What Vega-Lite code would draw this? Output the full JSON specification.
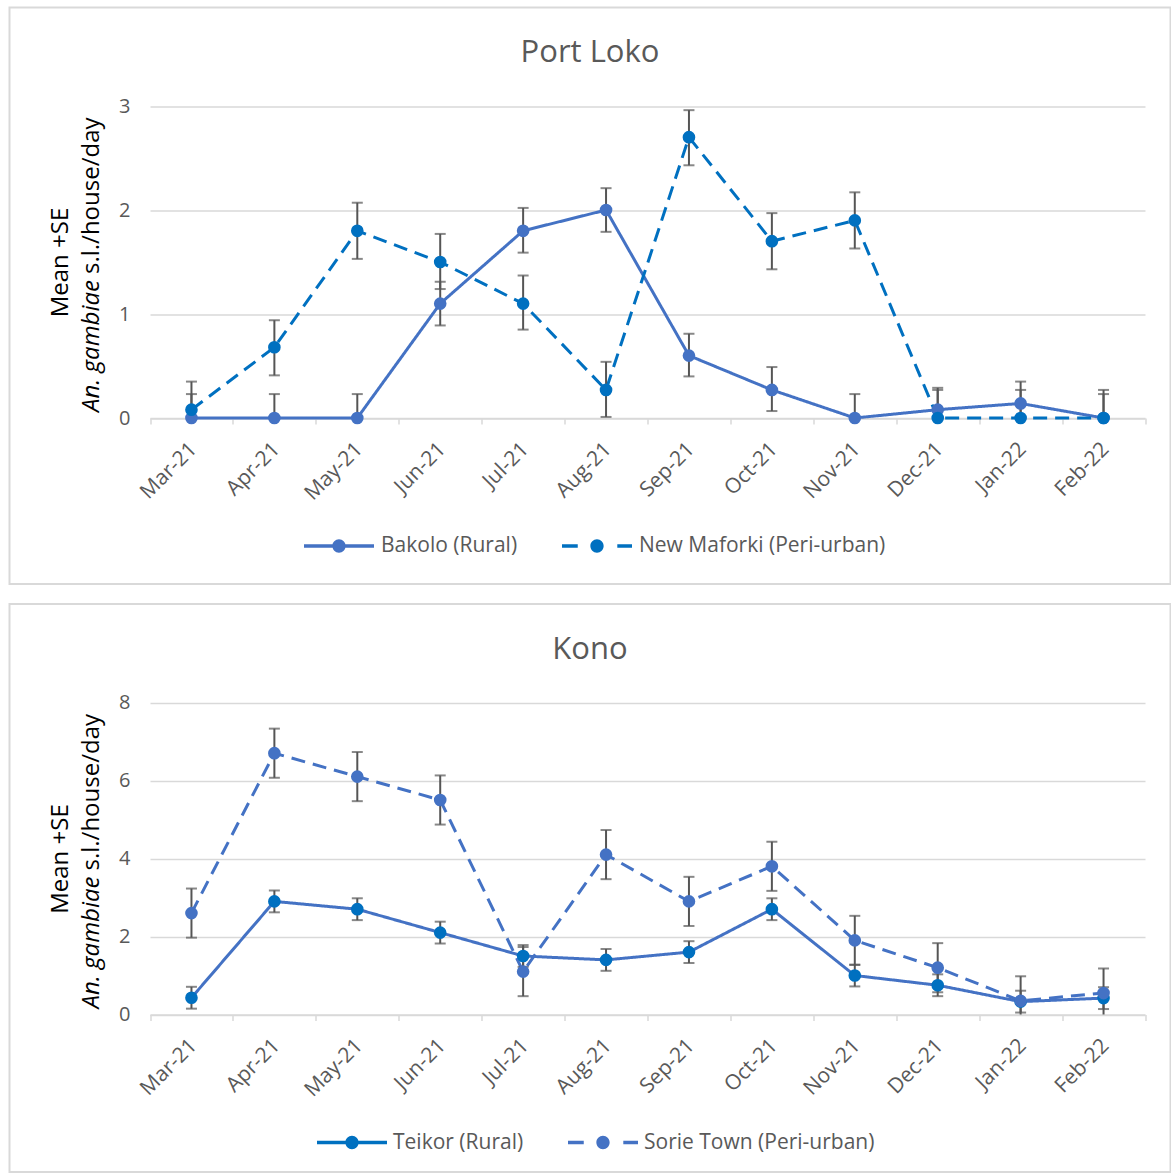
{
  "$schema": "https://vega.github.io/schema/vega-lite/v6.json",
  "background": "white",
  "padding": {"left": 8.5, "top": 6.5, "right": 0, "bottom": 0},
  "autosize": {"type": "pad"},
  "spacing": 17.5,
  "config": {
    "font": "Open Sans",
    "view": {"stroke": "#D9D9D9", "strokeWidth": 2},
    "axis": {"labelFont": "Open Sans", "titleFont": "Open Sans"},
    "legend": {"labelFont": "Open Sans"}
  },
  "datasets": {
    "portloko": [
      {"month": "Mar-21", "site": "Bakolo (Rural)", "mean": 0, "lo": 0, "hi": 0.23},
      {"month": "Apr-21", "site": "Bakolo (Rural)", "mean": 0, "lo": 0, "hi": 0.23},
      {"month": "May-21", "site": "Bakolo (Rural)", "mean": 0, "lo": 0, "hi": 0.23},
      {"month": "Jun-21", "site": "Bakolo (Rural)", "mean": 1.1, "lo": 0.89, "hi": 1.31},
      {"month": "Jul-21", "site": "Bakolo (Rural)", "mean": 1.8, "lo": 1.59, "hi": 2.02},
      {"month": "Aug-21", "site": "Bakolo (Rural)", "mean": 2.0, "lo": 1.79, "hi": 2.21},
      {"month": "Sep-21", "site": "Bakolo (Rural)", "mean": 0.6, "lo": 0.4, "hi": 0.81},
      {"month": "Oct-21", "site": "Bakolo (Rural)", "mean": 0.27, "lo": 0.067, "hi": 0.49},
      {"month": "Nov-21", "site": "Bakolo (Rural)", "mean": 0, "lo": 0, "hi": 0.23},
      {"month": "Dec-21", "site": "Bakolo (Rural)", "mean": 0.08, "lo": 0, "hi": 0.29},
      {"month": "Jan-22", "site": "Bakolo (Rural)", "mean": 0.14, "lo": 0, "hi": 0.35},
      {"month": "Feb-22", "site": "Bakolo (Rural)", "mean": 0, "lo": 0, "hi": 0.23},
      {"month": "Mar-21", "site": "New Maforki (Peri-urban)", "mean": 0.08, "lo": 0, "hi": 0.35},
      {"month": "Apr-21", "site": "New Maforki (Peri-urban)", "mean": 0.68, "lo": 0.41, "hi": 0.94},
      {"month": "May-21", "site": "New Maforki (Peri-urban)", "mean": 1.8, "lo": 1.53, "hi": 2.07},
      {"month": "Jun-21", "site": "New Maforki (Peri-urban)", "mean": 1.5, "lo": 1.24, "hi": 1.77},
      {"month": "Jul-21", "site": "New Maforki (Peri-urban)", "mean": 1.1, "lo": 0.85, "hi": 1.37},
      {"month": "Aug-21", "site": "New Maforki (Peri-urban)", "mean": 0.27, "lo": 0.01, "hi": 0.54},
      {"month": "Sep-21", "site": "New Maforki (Peri-urban)", "mean": 2.7, "lo": 2.43, "hi": 2.96},
      {"month": "Oct-21", "site": "New Maforki (Peri-urban)", "mean": 1.7, "lo": 1.43, "hi": 1.97},
      {"month": "Nov-21", "site": "New Maforki (Peri-urban)", "mean": 1.9, "lo": 1.63, "hi": 2.17},
      {"month": "Dec-21", "site": "New Maforki (Peri-urban)", "mean": 0, "lo": 0, "hi": 0.27},
      {"month": "Jan-22", "site": "New Maforki (Peri-urban)", "mean": 0, "lo": 0, "hi": 0.27},
      {"month": "Feb-22", "site": "New Maforki (Peri-urban)", "mean": 0, "lo": 0, "hi": 0.27}
    ],
    "kono": [
      {"month": "Mar-21", "site": "Teikor (Rural)", "mean": 0.43, "lo": 0.15, "hi": 0.71},
      {"month": "Apr-21", "site": "Teikor (Rural)", "mean": 2.9, "lo": 2.62, "hi": 3.18},
      {"month": "May-21", "site": "Teikor (Rural)", "mean": 2.7, "lo": 2.42, "hi": 2.98},
      {"month": "Jun-21", "site": "Teikor (Rural)", "mean": 2.1, "lo": 1.82, "hi": 2.38},
      {"month": "Jul-21", "site": "Teikor (Rural)", "mean": 1.5, "lo": 1.22, "hi": 1.78},
      {"month": "Aug-21", "site": "Teikor (Rural)", "mean": 1.4, "lo": 1.12, "hi": 1.68},
      {"month": "Sep-21", "site": "Teikor (Rural)", "mean": 1.6, "lo": 1.32, "hi": 1.88},
      {"month": "Oct-21", "site": "Teikor (Rural)", "mean": 2.7, "lo": 2.42, "hi": 2.98},
      {"month": "Nov-21", "site": "Teikor (Rural)", "mean": 1.0, "lo": 0.72, "hi": 1.28},
      {"month": "Dec-21", "site": "Teikor (Rural)", "mean": 0.75, "lo": 0.47, "hi": 1.03},
      {"month": "Jan-22", "site": "Teikor (Rural)", "mean": 0.33, "lo": 0.05, "hi": 0.61},
      {"month": "Feb-22", "site": "Teikor (Rural)", "mean": 0.42, "lo": 0.14, "hi": 0.7},
      {"month": "Mar-21", "site": "Sorie Town (Peri-urban)", "mean": 2.6, "lo": 1.97, "hi": 3.23},
      {"month": "Apr-21", "site": "Sorie Town (Peri-urban)", "mean": 6.7, "lo": 6.07, "hi": 7.33},
      {"month": "May-21", "site": "Sorie Town (Peri-urban)", "mean": 6.1, "lo": 5.47, "hi": 6.73},
      {"month": "Jun-21", "site": "Sorie Town (Peri-urban)", "mean": 5.5, "lo": 4.87, "hi": 6.13},
      {"month": "Jul-21", "site": "Sorie Town (Peri-urban)", "mean": 1.1, "lo": 0.47, "hi": 1.73},
      {"month": "Aug-21", "site": "Sorie Town (Peri-urban)", "mean": 4.1, "lo": 3.47, "hi": 4.73},
      {"month": "Sep-21", "site": "Sorie Town (Peri-urban)", "mean": 2.9, "lo": 2.27, "hi": 3.53},
      {"month": "Oct-21", "site": "Sorie Town (Peri-urban)", "mean": 3.8, "lo": 3.17, "hi": 4.43},
      {"month": "Nov-21", "site": "Sorie Town (Peri-urban)", "mean": 1.9, "lo": 1.27, "hi": 2.53},
      {"month": "Dec-21", "site": "Sorie Town (Peri-urban)", "mean": 1.2, "lo": 0.57, "hi": 1.83},
      {"month": "Jan-22", "site": "Sorie Town (Peri-urban)", "mean": 0.35, "lo": 0, "hi": 0.98},
      {"month": "Feb-22", "site": "Sorie Town (Peri-urban)", "mean": 0.55, "lo": 0, "hi": 1.18}
    ]
  },
  "vconcat": [
    {
      "width": 1161,
      "height": 576.5,
      "data": {"name": "portloko"},
      "title": {"text": "Port Loko", "fontSize": 31, "fontWeight": "normal", "color": "#595959", "anchor": "middle", "frame": "group", "baseline": "alphabetic", "offset": -85.5},
      "encoding": {
        "x": {
          "field": "month", "type": "ordinal",
          "scale": {"type": "band", "paddingInner": 0, "paddingOuter": 0, "range": [140.5, 1135.5],
                    "domain": ["Mar-21","Apr-21","May-21","Jun-21","Jul-21","Aug-21","Sep-21","Oct-21","Nov-21","Dec-21","Jan-22","Feb-22"]},
          "axis": {"title": null, "offset": -166, "tickBand": "extent", "tickSize": 6, "tickColor": "#D9D9D9", "tickWidth": 1.5,
                   "domainColor": "#D9D9D9", "domainWidth": 1.5, "labelAngle": -45, "labelAlign": "right", "labelBaseline": "top",
                   "labelPadding": 14, "labelOffset": -6, "labelFontSize": 21, "labelColor": "#595959", "labelOverlap": false, "grid": false}
        }
      },
      "layer": [
        {
          "mark": {"type": "line", "strokeWidth": 3},
          "encoding": {
            "y": {"field": "mean", "type": "quantitative",
                  "scale": {"domain": [0, 3], "range": [410.5, 98.5], "nice": false, "zero": false},
                  "axis": {"orient": "left", "offset": -140.5, "values": [0, 1, 2, 3], "domain": false, "ticks": false,
                           "labelPadding": 20, "labelFontSize": 20, "labelColor": "#595959",
                           "grid": true, "gridColor": "#D9D9D9", "gridWidth": 1.5,
                           "title": "Mean +SE", "titleFontSize": 24, "titleFontWeight": "normal", "titleColor": "#000000",
                           "titleX": -90, "titleBaseline": "middle"}},
            "color": {"field": "site", "type": "nominal",
                      "scale": {"domain": ["Bakolo (Rural)", "New Maforki (Peri-urban)"], "range": ["#4472C4", "#0070C0"]},
                      "legend": {"orient": "none", "legendX": 294.5, "legendY": 503.5, "direction": "horizontal", "title": null,
                                 "labelFontSize": 21, "labelColor": "#595959", "labelOffset": 7, "labelLimit": 500, "columnPadding": 44, "padding": 0,
                                 "symbolSize": 4900, "symbolStrokeWidth": 0,
                                 "encode": {"symbols": {"update": {
                                   "size": {"value": 4900},
                                   "strokeWidth": {"value": 0},
                                   "stroke": {"value": "transparent"},
                                   "opacity": {"value": 1},
                                   "fillOpacity": {"value": 1},
                                   "fill": {"signal": "datum.value === 'Bakolo (Rural)' ? '#4472C4' : '#0070C0'"},
                                   "shape": {"signal": "datum.value === 'Bakolo (Rural)' ? 'M-1,-0.05H1V0.05H-1Z M0.19,0A0.19,0.19 0 1,1 -0.19,0A0.19,0.19 0 1,1 0.19,0Z' : 'M-1,-0.05H-0.55V0.05H-1Z M0.58,-0.05H1V0.05H0.58Z M0.19,0A0.19,0.19 0 1,1 -0.19,0A0.19,0.19 0 1,1 0.19,0Z'"}
                                 }}}}},
            "strokeDash": {"field": "site", "type": "nominal",
                           "scale": {"domain": ["Bakolo (Rural)", "New Maforki (Peri-urban)"], "range": [[1, 0], [14, 8]]},
                           "legend": null}
          }
        },
        {
          "mark": {"type": "rule", "color": "#555555", "strokeWidth": 2},
          "encoding": {
            "y": {"field": "lo", "type": "quantitative",
                  "axis": {"orient": "left", "offset": -140.5, "labels": false, "ticks": false, "domain": false, "grid": false,
                           "title": "An. gambiae", "titleFontSize": 24, "titleFontWeight": "normal", "titleFontStyle": "italic",
                           "titleColor": "#000000", "titleX": -59, "titleY": 272, "titleAlign": "right", "titleBaseline": "middle"}},
            "y2": {"field": "hi"}
          }
        },
        {
          "mark": {"type": "tick", "color": "#555555", "size": 11, "thickness": 2},
          "encoding": {
            "y": {"field": "hi", "type": "quantitative",
                  "axis": {"orient": "left", "offset": -140.5, "labels": false, "ticks": false, "domain": false, "grid": false,
                           "title": "s.l./house/day", "titleFontSize": 24, "titleFontWeight": "normal",
                           "titleColor": "#000000", "titleX": -59, "titleY": 266, "titleAlign": "left", "titleBaseline": "middle"}}
          }
        },
        {
          "transform": [{"filter": "datum.lo > 0"}],
          "mark": {"type": "tick", "color": "#555555", "size": 11, "thickness": 2},
          "encoding": {"y": {"field": "lo", "type": "quantitative", "axis": null}}
        },
        {
          "mark": {"type": "circle", "size": 160, "opacity": 1},
          "encoding": {
            "y": {"field": "mean", "type": "quantitative", "axis": null},
            "fill": {"field": "site", "type": "nominal",
                     "scale": {"domain": ["Bakolo (Rural)", "New Maforki (Peri-urban)"], "range": ["#4472C4", "#0070C0"]},
                     "legend": null}
          }
        }
      ],
      "resolve": {"axis": {"y": "independent"}}
    },
    {
      "width": 1161,
      "height": 568,
      "data": {"name": "kono"},
      "title": {"text": "Kono", "fontSize": 31, "fontWeight": "normal", "color": "#595959", "anchor": "middle", "frame": "group", "baseline": "alphabetic", "offset": -86},
      "encoding": {
        "x": {
          "field": "month", "type": "ordinal",
          "scale": {"type": "band", "paddingInner": 0, "paddingOuter": 0, "range": [140.5, 1135.5],
                    "domain": ["Mar-21","Apr-21","May-21","Jun-21","Jul-21","Aug-21","Sep-21","Oct-21","Nov-21","Dec-21","Jan-22","Feb-22"]},
          "axis": {"title": null, "offset": -157.5, "tickBand": "extent", "tickSize": 6, "tickColor": "#D9D9D9", "tickWidth": 1.5,
                   "domainColor": "#D9D9D9", "domainWidth": 1.5, "labelAngle": -45, "labelAlign": "right", "labelBaseline": "top",
                   "labelPadding": 14, "labelOffset": -6, "labelFontSize": 21, "labelColor": "#595959", "labelOverlap": false, "grid": false}
        }
      },
      "layer": [
        {
          "mark": {"type": "line", "strokeWidth": 3},
          "encoding": {
            "y": {"field": "mean", "type": "quantitative",
                  "scale": {"domain": [0, 8], "range": [410.5, 98.5], "nice": false, "zero": false},
                  "axis": {"orient": "left", "offset": -140.5, "values": [0, 2, 4, 6, 8], "domain": false, "ticks": false,
                           "labelPadding": 20, "labelFontSize": 20, "labelColor": "#595959",
                           "grid": true, "gridColor": "#D9D9D9", "gridWidth": 1.5,
                           "title": "Mean +SE", "titleFontSize": 24, "titleFontWeight": "normal", "titleColor": "#000000",
                           "titleX": -90, "titleBaseline": "middle"}},
            "color": {"field": "site", "type": "nominal",
                      "scale": {"domain": ["Teikor (Rural)", "Sorie Town (Peri-urban)"], "range": ["#4472C4", "#4472C4"]},
                      "legend": {"orient": "none", "legendX": 307.5, "legendY": 503.5, "direction": "horizontal", "title": null,
                                 "labelFontSize": 21, "labelColor": "#595959", "labelOffset": 6, "labelLimit": 500, "columnPadding": 44, "padding": 0,
                                 "symbolSize": 4900, "symbolStrokeWidth": 0,
                                 "encode": {"symbols": {"update": {
                                   "size": {"value": 4900},
                                   "strokeWidth": {"value": 0},
                                   "stroke": {"value": "transparent"},
                                   "opacity": {"value": 1},
                                   "fillOpacity": {"value": 1},
                                   "fill": {"value": "#4472C4"},
                                   "shape": {"signal": "datum.value === 'Teikor (Rural)' ? 'M-1,-0.05H1V0.05H-1Z M0.19,0A0.19,0.19 0 1,1 -0.19,0A0.19,0.19 0 1,1 0.19,0Z' : 'M-1,-0.05H-0.55V0.05H-1Z M0.58,-0.05H1V0.05H0.58Z M0.19,0A0.19,0.19 0 1,1 -0.19,0A0.19,0.19 0 1,1 0.19,0Z'"}
                                 }}}}},
            "strokeDash": {"field": "site", "type": "nominal",
                           "scale": {"domain": ["Teikor (Rural)", "Sorie Town (Peri-urban)"], "range": [[1, 0], [14, 8]]},
                           "legend": null}
          }
        },
        {
          "mark": {"type": "rule", "color": "#555555", "strokeWidth": 2},
          "encoding": {
            "y": {"field": "lo", "type": "quantitative",
                  "axis": {"orient": "left", "offset": -140.5, "labels": false, "ticks": false, "domain": false, "grid": false,
                           "title": "An. gambiae", "titleFontSize": 24, "titleFontWeight": "normal", "titleFontStyle": "italic",
                           "titleColor": "#000000", "titleX": -59, "titleY": 272, "titleAlign": "right", "titleBaseline": "middle"}},
            "y2": {"field": "hi"}
          }
        },
        {
          "mark": {"type": "tick", "color": "#555555", "size": 11, "thickness": 2},
          "encoding": {
            "y": {"field": "hi", "type": "quantitative",
                  "axis": {"orient": "left", "offset": -140.5, "labels": false, "ticks": false, "domain": false, "grid": false,
                           "title": "s.l./house/day", "titleFontSize": 24, "titleFontWeight": "normal",
                           "titleColor": "#000000", "titleX": -59, "titleY": 266, "titleAlign": "left", "titleBaseline": "middle"}}
          }
        },
        {
          "transform": [{"filter": "datum.lo > 0"}],
          "mark": {"type": "tick", "color": "#555555", "size": 11, "thickness": 2},
          "encoding": {"y": {"field": "lo", "type": "quantitative", "axis": null}}
        },
        {
          "mark": {"type": "circle", "size": 160, "opacity": 1},
          "encoding": {
            "y": {"field": "mean", "type": "quantitative", "axis": null},
            "fill": {"field": "site", "type": "nominal",
                     "scale": {"domain": ["Teikor (Rural)", "Sorie Town (Peri-urban)"], "range": ["#0070C0", "#4472C4"]},
                     "legend": null}
          }
        }
      ],
      "resolve": {"axis": {"y": "independent"}}
    }
  ],
  "resolve": {
    "scale": {"color": "independent", "fill": "independent", "strokeDash": "independent"},
    "legend": {"color": "independent", "fill": "independent", "strokeDash": "independent"}
  }
}
